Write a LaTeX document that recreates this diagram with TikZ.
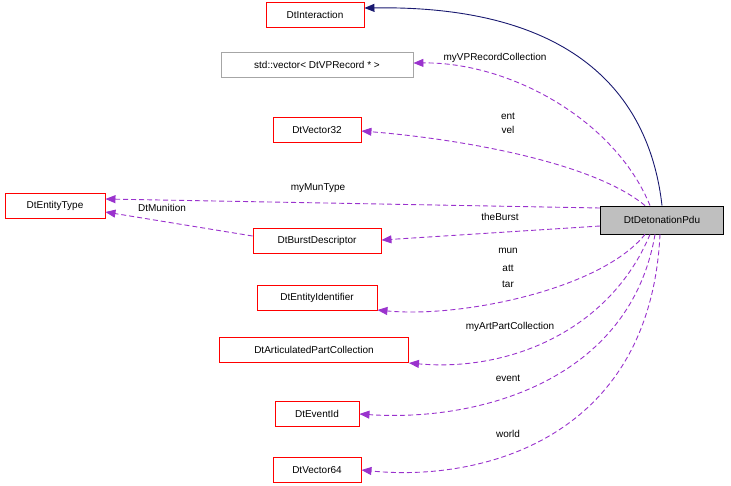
\documentclass[tikz,border=0pt]{standalone}
\usepackage{fontspec}
\setmainfont{Liberation Sans}
\usetikzlibrary{arrows.meta,positioning,calc}
\definecolor{edgepurple}{HTML}{9A32CD}
\definecolor{edgenavy}{HTML}{191970}

\begin{document}
\begin{tikzpicture}[x=1pt,y=-1pt,
    cls/.style={draw=red,fill=white,line width=0.9pt,inner sep=0pt,minimum height=25pt,font=\fontsize{10}{12}\selectfont},
    ext/.style={cls,draw=gray!70},
    use/.style={dashed,line width=0.9pt,dash pattern=on 5pt off 3pt,edgepurple,-{Triangle[length=10pt,width=8pt]}},
    inh/.style={edgenavy,line width=0.9pt,-{Triangle[length=10pt,width=8pt]}},
    lbl/.style={font=\fontsize{10}{12}\selectfont,inner sep=1pt}]
    \useasboundingbox (0,0) rectangle (731,485);
    % Classes
    \node[cls,minimum width=98pt] (inter) at (315,15) {DtInteraction};
    \node[ext,minimum width=192pt] (vprec) at (317,65) {std::vector\textless{} DtVPRecord * \textgreater};
    \node[cls,minimum width=88pt] (vec32) at (317,130) {DtVector32};
    \node[cls,minimum width=100pt] (etype) at (55,206) {DtEntityType};
    \node[cls,minimum width=128pt] (burst) at (317,241) {DtBurstDescriptor};
    \node[cls,minimum width=120pt] (eid) at (317,298) {DtEntityIdentifier};
    \node[cls,minimum width=189pt] (artpc) at (314,350) {DtArticulatedPartCollection};
    \node[cls,minimum width=84pt] (evid) at (317,414) {DtEventId};
    \node[cls,minimum width=88pt] (vec64) at (317,470) {DtVector64};
    \node[cls,draw=black,fill=gray!50,minimum width=123pt,minimum height=28pt] (pdu) at (662,220) {DtDetonationPdu};

    % Connectors
    \draw[inh] ($(pdu.north)+(0,0)$) .. controls (650,100) and (580,5) .. (inter.east |- 0,8);
    \draw[use] ($(pdu.north)+(-12,0)$) .. controls (615,120) and (510,62) .. (vprec.east |- 0,63);
    \draw[use] ($(pdu.north)+(-17,0)$) .. controls (590,160) and (450,138) .. (vec32.east |- 0,131);
    \draw[use] ($(pdu.west)+(0,-12)$) -- (etype.east |- 0,199);
    \draw[use] (burst.west |- 0,236) -- (etype.east |- 0,212);
    \draw[use] ($(pdu.west)+(0,6)$) -- (burst.east |- 0,240);
    \draw[use] ($(pdu.south)+(-17,0)$) .. controls (600,290) and (460,318) .. (eid.east |- 0,310);
    \draw[use] ($(pdu.south)+(-12,0)$) .. controls (610,330) and (510,372) .. (artpc.east |- 0,363);
    \draw[use] ($(pdu.south)+(-7,0)$) .. controls (630,380) and (480,422) .. (evid.east |- 0,414);
    \draw[use] ($(pdu.south)+(-2,0)$) .. controls (650,440) and (480,482) .. (vec64.east |- 0,470);

    % Labels
    \node[lbl] (l1) at (495,58) {myVPRecordCollection};
    \node[lbl] (l2) at (508,116) {ent};
    \node[lbl] (l3) at (508,130) {vel};
    \node[lbl] (l4) at (318,188) {myMunType};
    \node[lbl] (l5) at (162,208) {DtMunition};
    \node[lbl] (l6) at (500,217) {theBurst};
    \node[lbl] (l7) at (508,251) {mun};
    \node[lbl] (l8) at (508,268) {att};
    \node[lbl] (l9) at (508,284) {tar};
    \node[lbl] (l10) at (510,327) {myArtPartCollection};
    \node[lbl] (l11) at (508,378) {event};
    \node[lbl] (l12) at (508,434) {world};
\end{tikzpicture}
\end{document}
